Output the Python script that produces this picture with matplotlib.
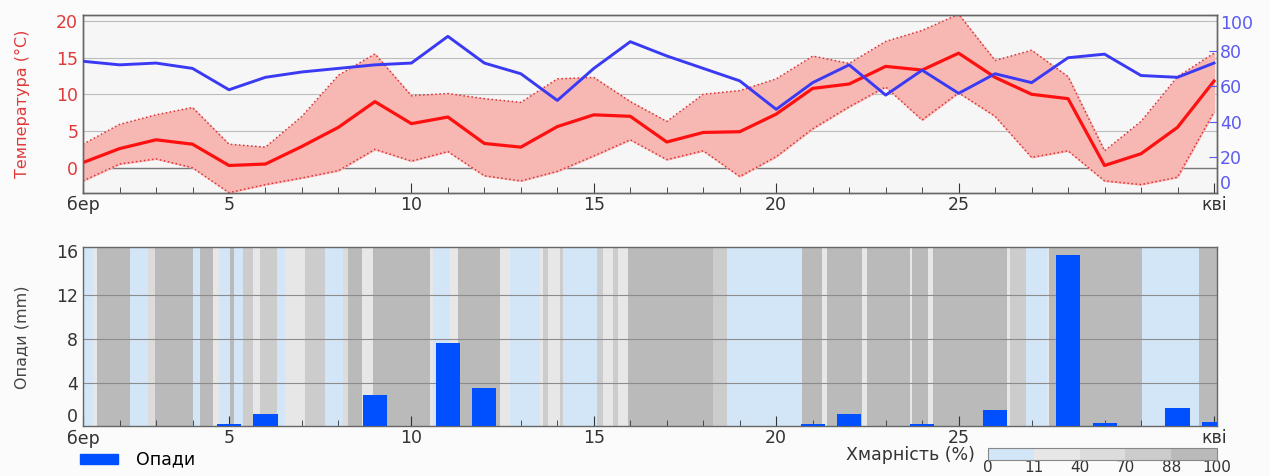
import numpy as np
import matplotlib
matplotlib.use('Agg')
from matplotlib import pyplot as plt
from matplotlib.colors import ListedColormap, BoundaryNorm
from matplotlib.patches import Patch

# дні березня (1..31) + 1 квітня (32)
days = np.arange(1, 33)
t_mean = [0.7, 2.6, 3.8, 3.2, 0.3, 0.5, 2.9, 5.5, 9.0, 6.0,
          6.9, 3.3, 2.8, 5.6, 7.2, 7.0, 3.5, 4.8, 4.9, 7.3,
          10.8, 11.4, 13.8, 13.3, 15.6, 12.3, 10.0, 9.4, 0.3, 1.9,
          5.5, 11.8]
t_max = [3.2, 5.9, 7.2, 8.2, 3.2, 2.8, 7.0, 12.6, 15.5, 9.8,
         10.1, 9.4, 8.9, 12.1, 12.3, 9.0, 6.3, 10.0, 10.5, 12.1,
         15.2, 14.2, 17.2, 18.7, 20.9, 14.6, 16.0, 12.4, 2.3, 6.3,
         12.4, 15.6]
t_min = [-1.8, 0.5, 1.2, 0.0, -3.4, -2.3, -1.4, -0.4, 2.5, 0.9,
         2.2, -1.1, -1.8, -0.5, 1.6, 3.8, 1.1, 2.3, -1.2, 1.5,
         5.3, 8.3, 11.0, 6.5, 10.2, 7.0, 1.4, 2.3, -1.8, -2.3,
         -1.3, 7.6]
humidity = [74, 72, 73, 70, 58, 65, 68, 70, 72, 73,
            88, 73, 67, 52, 70, 85, 77, 70, 63, 47,
            62, 72, 55, 69, 56, 67, 62, 76, 78, 66,
            65, 73]
precip = [0, 0, 0, 0, 0.2, 1.1, 0, 0, 2.85, 0,
          7.6, 3.5, 0, 0, 0, 0, 0, 0, 0, 0,
          0.2, 1.1, 0, 0.2, 0, 1.5, 0, 15.6, 0.35, 0,
          1.65, 0.45]

# хмарність: початок інтервалу (день) і відсоток
cloud_start = [1.00, 1.27, 1.38, 2.29, 2.79, 2.97, 4.02, 4.21, 4.57, 4.73,
               5.03, 5.14, 5.39, 5.67, 5.85, 6.31, 6.53, 7.08, 7.63, 8.12,
               8.26, 8.64, 8.95, 10.51, 10.59, 11.05, 11.27, 12.42, 12.70, 13.52,
               13.60, 13.74, 14.07, 14.15, 15.08, 15.25, 15.52, 15.66, 15.93, 18.26,
               18.64, 20.70, 21.25, 21.38, 22.34, 22.48, 23.66, 23.71, 24.15, 24.29,
               26.32, 26.40, 26.86, 27.41, 27.49, 30.04, 31.60]
cloud_pct = [5, 25, 95, 5, 55, 95, 5, 95, 25, 5,
             95, 5, 80, 25, 80, 5, 25, 80, 5, 55,
             95, 25, 95, 25, 5, 25, 95, 25, 5, 25,
             80, 25, 80, 5, 80, 25, 80, 25, 95, 80,
             5, 95, 25, 95, 25, 95, 25, 95, 25, 95,
             25, 80, 5, 25, 95, 5, 95]
cloud_end = 32.08

day_ticks = [1, 5, 10, 15, 20, 25, 32]
day_labels = ['бер', '5', '10', '15', '20', '25', 'кві']
cloud_bounds = [0, 11, 40, 70, 88, 100]
cloud_colors = ['#d2e6f8', '#e7e7e7', '#dcdcdc', '#cccccc', '#bababa']

fig = plt.figure(figsize=(12.7, 4.76), dpi=100, facecolor='#fbfbfb')
ax1 = fig.add_axes([0.0654, 0.5945, 0.8928, 0.374], facecolor='#f6f6f6')
ax2 = fig.add_axes([0.0654, 0.104, 0.8928, 0.377], facecolor='#f6f6f6')

# --- температура
ax1.fill_between(days, t_min, t_max, color='#f7b7b2', zorder=2)
ax1.plot(days, t_max, ':', color='#d8343a', lw=1.1, zorder=3)
ax1.plot(days, t_min, ':', color='#d8343a', lw=1.1, zorder=3)
ax1.plot(days, t_mean, '-', color='#ff1010', lw=2.3, zorder=4)
ax1.set_ylim(-3.45, 20.8)
ax1.set_yticks([0, 5, 10, 15, 20])
for v in [5, 10, 15, 20]:
    ax1.axhline(v, color='#bdbdbd', lw=0.8, zorder=1)
ax1.axhline(0, color='#777777', lw=1.0, zorder=1)
ax1.tick_params(axis='y', colors='#e03a3a', labelsize=12.5, direction='in', length=0)
ax1.set_ylabel('Температура (°C)', color='#e03a3a', fontsize=11.5)
ax1.yaxis.set_label_coords(-0.047, 0.5)

ax1h = ax1.twinx()
ax1h.plot(days, humidity, '-', color='#3a3af5', lw=2.1, zorder=5)
ax1h.set_ylim(0, 100)
ax1h.set_yticks([0, 20, 40, 60, 80, 100])
ax1h.tick_params(axis='y', colors='#5a5af0', labelsize=12.5, direction='in', length=6, pad=2)
ylabs = ax1h.get_yticklabels()
ylabs[0].set_verticalalignment('bottom')
ylabs[-1].set_verticalalignment('top')

# --- опади і хмарність
cmap = ListedColormap(cloud_colors)
norm = BoundaryNorm(cloud_bounds, cmap.N)
edges = np.array(cloud_start + [cloud_end])
mesh = ax2.pcolormesh(edges, [0, 16.35], np.array([cloud_pct]), cmap=cmap, norm=norm,
                      shading='flat', zorder=0)
for v in [4, 8, 12]:
    ax2.axhline(v, color='#8c8c8c', lw=0.8, zorder=1)
ax2.bar(days, precip, width=0.66, color='#0050ff', zorder=3, label='Опади')
ax2.set_ylim(0, 16.35)
ax2.set_yticks([0, 4, 8, 12, 16])
ax2.tick_params(axis='y', colors='#333333', labelsize=12.5, direction='in', length=0)
ax2.get_yticklabels()[0].set_verticalalignment('bottom')
ax2.set_ylabel('Опади (mm)', color='#444444', fontsize=11.5)
ax2.yaxis.set_label_coords(-0.047, 0.5)

for ax in (ax1, ax2):
    ax.set_xlim(1, cloud_end)
    ax.set_xticks(day_ticks)
    ax.set_xticklabels(day_labels)
    ax.set_xticks(days, minor=True)
    ax.tick_params(axis='x', which='major', direction='in', length=7, colors='#333333',
                   labelsize=12.5, pad=2)
    ax.tick_params(axis='x', which='minor', direction='in', length=4, color='#333333')
for ax in (ax1, ax2, ax1h):
    for s in ax.spines.values():
        s.set_color('#666666')
        s.set_linewidth(1.0)

fig.legend(handles=[Patch(color='#0050ff')], labels=['Опади'], loc='center left',
           bbox_to_anchor=(0.063, 0.034), frameon=False, fontsize=12.5,
           handlelength=2.2, handleheight=0.5, handletextpad=1.0,
           borderpad=0, borderaxespad=0)

fig.text(975 / 1270, 1 - 455 / 476, 'Хмарність (%)', ha='right', va='center',
         fontsize=12.5, color='#333333')
cax = fig.add_axes([988 / 1270, (476 - 460) / 476, 229 / 1270, 12 / 476])
cb = fig.colorbar(mesh, cax=cax, orientation='horizontal', ticks=cloud_bounds)
cb.outline.set_edgecolor('#888888')
cax.tick_params(labelsize=11, colors='#333333', length=0, pad=0)

fig.savefig('out.png', dpi=100, facecolor=fig.get_facecolor())
